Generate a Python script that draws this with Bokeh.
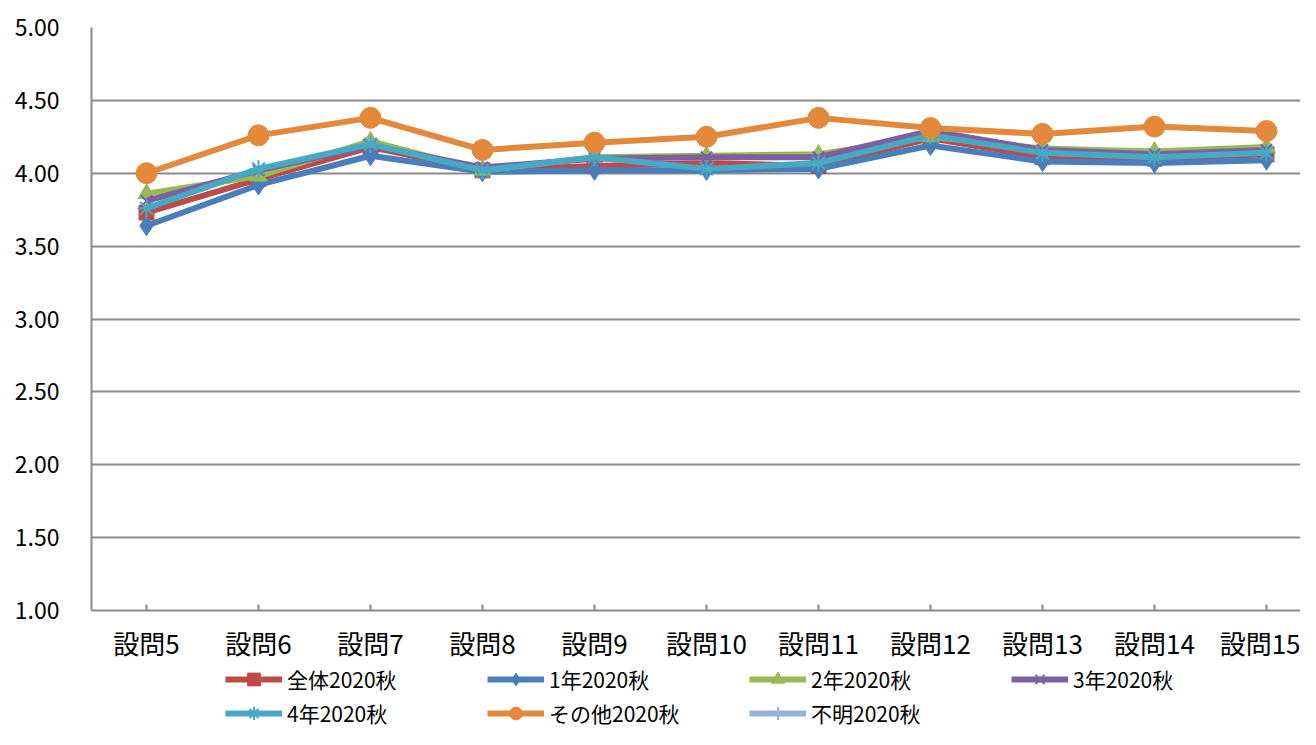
from bokeh.plotting import figure
from bokeh.layouts import column
from bokeh.models import Legend, LegendItem, FixedTicker, NumeralTickFormatter, Range1d
from bokeh.embed import file_html
from bokeh.resources import INLINE

categories = ["設問5", "設問6", "設問7", "設問8", "設問9", "設問10",
              "設問11", "設問12", "設問13", "設問14", "設問15"]

zentai = [3.73, 3.96, 4.18, 4.02, 4.05, 4.07, 4.05, 4.24, 4.11, 4.10, 4.13]
nen1 = [3.64, 3.92, 4.12, 4.01, 4.02, 4.02, 4.03, 4.19, 4.08, 4.07, 4.09]
nen2 = [3.86, 3.98, 4.22, 4.02, 4.11, 4.12, 4.13, 4.25, 4.17, 4.15, 4.18]
nen3 = [3.81, 4.02, 4.19, 4.04, 4.10, 4.11, 4.11, 4.29, 4.16, 4.13, 4.16]
nen4 = [3.76, 4.03, 4.20, 4.02, 4.11, 4.03, 4.07, 4.26, 4.14, 4.11, 4.14]
sonota = [4.00, 4.26, 4.38, 4.16, 4.21, 4.25, 4.38, 4.31, 4.27, 4.32, 4.29]
fumei = [None] * 11

y_ticks = [1.0, 1.5, 2.0, 2.5, 3.0, 3.5, 4.0, 4.5, 5.0]

series = [
    ("全体2020秋", zentai, "#BE4B48", "square", 15),
    ("1年2020秋", nen1, "#4A7EBB", "diamond", 20),
    ("2年2020秋", nen2, "#98B954", "triangle", 17),
    ("3年2020秋", nen3, "#7D60A0", "x", 16),
    ("4年2020秋", nen4, "#46AAC5", "asterisk", 18),
    ("その他2020秋", sonota, "#E4883C", "circle", 21),
    ("不明2020秋", fumei, "#95B3D7", "cross", 16),
]

JP = "Noto Sans CJK JP"

x = list(range(len(categories)))
W, H = 1300, 729
left, top, bottom = 91, 27, 53
frame_h = 583
H1 = top + frame_h + bottom
H2 = H - H1
frame_w = W - left
px_per = 112.0
x_start = -55.0 / px_per
x_end = x_start + frame_w / px_per

p = figure(width=W, height=H1, output_backend="svg", toolbar_location=None,
           x_range=Range1d(x_start, x_end), y_range=Range1d(1, 5),
           min_border_left=left, min_border_right=0, min_border_top=top,
           min_border_bottom=bottom)
p.outline_line_color = None
p.background_fill_color = "white"
p.border_fill_color = "white"

grid_col = "#8A8A8A"
p.xgrid.grid_line_color = None
p.ygrid.grid_line_color = grid_col
p.ygrid.grid_line_width = 2
p.ygrid.ticker = FixedTicker(ticks=y_ticks)

p.yaxis.ticker = FixedTicker(ticks=y_ticks)
p.yaxis.formatter = NumeralTickFormatter(format="0.00")
p.yaxis.axis_line_color = grid_col
p.yaxis.axis_line_width = 2
p.yaxis.major_tick_out = 0
p.yaxis.major_tick_in = 0
p.yaxis.minor_tick_line_color = None
p.yaxis.major_label_standoff = 32
p.yaxis.major_label_text_font = JP
p.yaxis.major_label_text_font_size = "23px"
p.yaxis.major_label_text_color = "#000000"

p.xaxis.ticker = FixedTicker(ticks=x)
p.xaxis.major_label_overrides = {i: c for i, c in enumerate(categories)}
p.xaxis.axis_line_color = grid_col
p.xaxis.axis_line_width = 2
p.xaxis.major_tick_line_color = grid_col
p.xaxis.major_tick_line_width = 2
p.xaxis.major_tick_in = 6
p.xaxis.major_tick_out = 0
p.xaxis.minor_tick_line_color = None
p.xaxis.major_label_standoff = 13
p.xaxis.major_label_text_font = JP
p.xaxis.major_label_text_font_size = "26px"
p.xaxis.major_label_text_color = "#000000"

# legend strip (separate figure so the legend is not clipped by the chart frame)
p2 = figure(width=W, height=H2, output_backend="svg", toolbar_location=None,
            x_range=Range1d(100, 101), y_range=Range1d(100, 101),
            x_axis_type=None, y_axis_type=None,
            min_border_left=0, min_border_right=0, min_border_top=0, min_border_bottom=0)
p2.outline_line_color = None
p2.xgrid.grid_line_color = None
p2.ygrid.grid_line_color = None
p2.background_fill_color = "white"
p2.border_fill_color = "white"

items = []
for name, vals, col, marker, size in series:
    yv = [float("nan") if v is None else v for v in vals]
    lw = 2 if marker in ("x", "asterisk", "cross") else 1
    p.line(x, yv, line_color=col, line_width=6, line_join="round")
    p.scatter(x, yv, marker=marker, size=size, fill_color=col, line_color=col, line_width=lw)
    # legend proxies (same data, outside the strip's visible range)
    ln2 = p2.line(x, yv, line_color=col, line_width=6)
    sc2 = p2.scatter(x, yv, marker=marker, size=size, fill_color=col,
                     line_color=col, line_width=lw)
    items.append(LegendItem(label=name, renderers=[ln2, sc2], index=0))

legend = Legend(items=items, location=(134, 0), orientation="horizontal", ncols=4,
                glyph_width=57, glyph_height=32, label_height=32, label_width=198,
                label_standoff=5, spacing=2, padding=0, margin=0,
                label_text_font=JP, label_text_font_size="21px",
                label_text_color="#000000",
                border_line_color=None, background_fill_alpha=0)
p2.add_layout(legend, "center")

open("out.html", "w").write(file_html(column(p, p2, spacing=0), INLINE))
